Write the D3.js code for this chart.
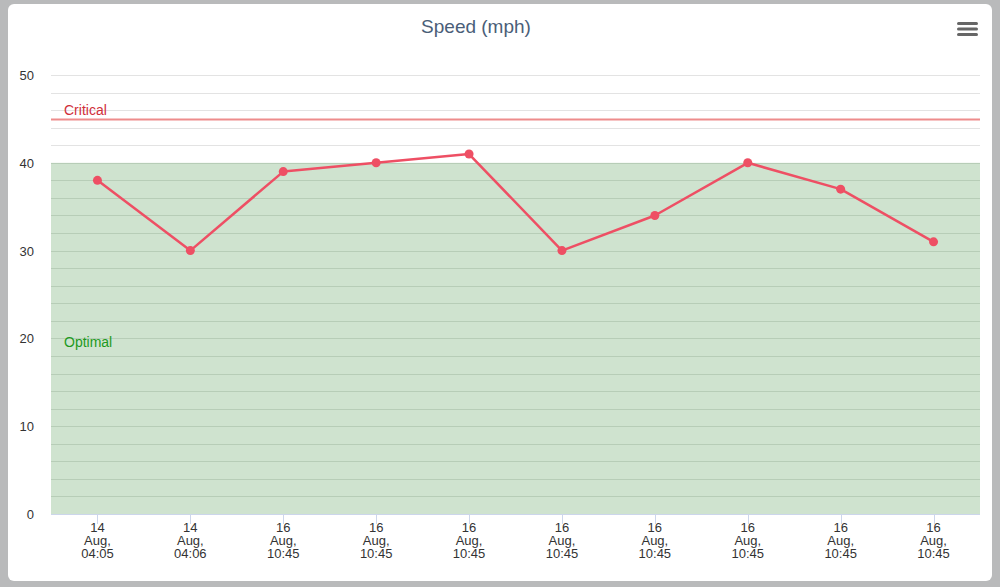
<!DOCTYPE html>
<html><head><meta charset="utf-8">
<script src="https://cdn.jsdelivr.net/npm/d3@7"></script>
<style>
html,body{margin:0;padding:0;background:#b9babb;}
svg{display:block;font-family:"Liberation Sans",Arial,sans-serif;}
</style></head>
<body>
<svg id="c" width="1000" height="587"></svg>
<script>
const categories = ["14 Aug, 04:05","14 Aug, 04:06","16 Aug, 10:45","16 Aug, 10:45","16 Aug, 10:45","16 Aug, 10:45","16 Aug, 10:45","16 Aug, 10:45","16 Aug, 10:45","16 Aug, 10:45"];
const labelLines = [["14","Aug,","04:05"],["14","Aug,","04:06"],["16","Aug,","10:45"],["16","Aug,","10:45"],["16","Aug,","10:45"],["16","Aug,","10:45"],["16","Aug,","10:45"],["16","Aug,","10:45"],["16","Aug,","10:45"],["16","Aug,","10:45"]];
const speed = [38, 30, 39, 40, 41, 30, 34, 40, 37, 31];
const yTicks = [0, 10, 20, 30, 40, 50];
const minorTicks = d3.range(0, 52, 2);
const optimalBand = [0, 40];
const criticalLine = 45;

const svg = d3.select("#c");
svg.append("rect").attr("x",8).attr("y",4).attr("width",984).attr("height",577).attr("rx",6).attr("fill","#fff");

const L = 51, R = 980, T = 75, B = 514;
const x = d3.scaleBand().domain(d3.range(categories.length)).range([L, R]);
const y = d3.scaleLinear().domain([0, 50]).range([B, T]);

svg.append("text").attr("x",476).attr("y",33).attr("text-anchor","middle")
  .attr("font-size",19).attr("fill","#4a5e78").text("Speed (mph)");

[0,1,2].forEach(i=>{
  svg.append("rect").attr("x",957).attr("y",22+i*5.5).attr("width",21).attr("height",3).attr("rx",1.5).attr("fill","#666");
});

svg.append("rect").attr("x",L).attr("width",R-L)
  .attr("y",y(optimalBand[1])).attr("height",y(optimalBand[0])-y(optimalBand[1]))
  .attr("fill","#cfe3cf");

svg.append("g").selectAll("line").data(minorTicks.filter(d=>d>0)).join("line")
  .attr("x1",L).attr("x2",R)
  .attr("y1",d=>Math.round(y(d))+0.5).attr("y2",d=>Math.round(y(d))+0.5)
  .attr("stroke",d=>d<=optimalBand[1]?"#b7cdb7":"#e3e3e3").attr("stroke-width",1);

svg.append("line").attr("x1",L).attr("x2",R)
  .attr("y1",Math.round(y(criticalLine))+0.5).attr("y2",Math.round(y(criticalLine))+0.5)
  .attr("stroke","#ee8c8c").attr("stroke-width",2);
svg.append("text").attr("x",64).attr("y",115).attr("font-size",14).attr("fill","#d0303a").text("Critical");
svg.append("text").attr("x",64).attr("y",347).attr("font-size",14).attr("fill","#1e9a1e").text("Optimal");

svg.append("g").selectAll("text").data(yTicks).join("text")
  .attr("x",34).attr("y",d=>y(d)+5).attr("text-anchor","end")
  .attr("font-size",13).attr("fill","#333").text(d=>d);

svg.append("line").attr("x1",L).attr("x2",R).attr("y1",B+0.5).attr("y2",B+0.5).attr("stroke","#ccd6eb");
svg.append("g").selectAll("line").data(d3.range(categories.length)).join("line")
  .attr("x1",i=>Math.round(x(i)+x.bandwidth()/2)+0.5).attr("x2",i=>Math.round(x(i)+x.bandwidth()/2)+0.5)
  .attr("y1",B).attr("y2",B+10).attr("stroke","#ccd6eb");
const xl = svg.append("g").selectAll("text").data(d3.range(categories.length)).join("text")
  .attr("x",i=>x(i)+x.bandwidth()/2).attr("y",532).attr("text-anchor","middle")
  .attr("font-size",13).attr("fill","#333");
xl.each(function(i){
  const t = d3.select(this);
  labelLines[i].forEach((s,k)=>{
    t.append("tspan").attr("x",x(i)+x.bandwidth()/2).attr("dy",k===0?0:13).text(s);
  });
});

const line = d3.line().x((d,i)=>x(i)+x.bandwidth()/2).y(d=>y(d));
svg.append("path").datum(speed).attr("d",line).attr("fill","none")
  .attr("stroke","#ee4f64").attr("stroke-width",2.5).attr("stroke-linejoin","round");
svg.append("g").selectAll("circle").data(speed).join("circle")
  .attr("cx",(d,i)=>x(i)+x.bandwidth()/2).attr("cy",d=>y(d)).attr("r",4.5).attr("fill","#ee4f64");
</script>
</body></html>
